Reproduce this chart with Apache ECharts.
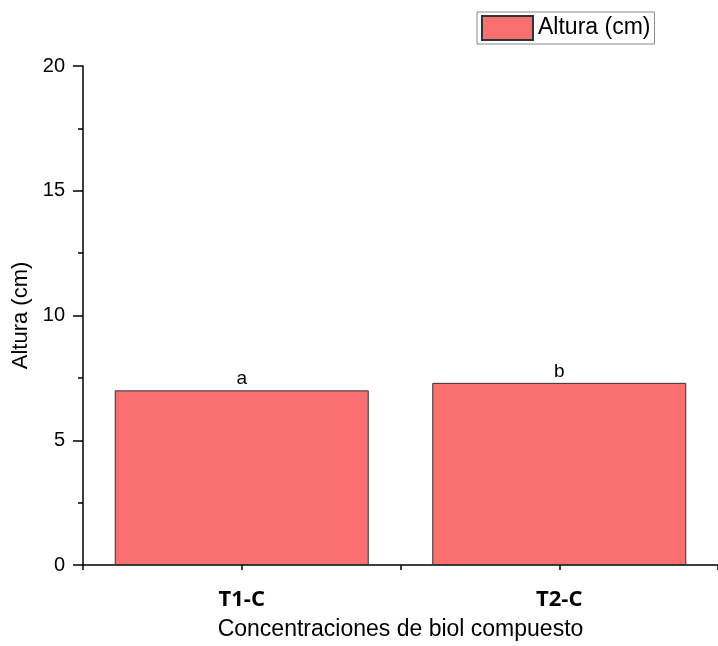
<!DOCTYPE html>
<html><head><meta charset="utf-8">
<script src="https://cdn.jsdelivr.net/npm/echarts@6/dist/echarts.min.js"></script>
<style>html,body{margin:0;padding:0;background:#fff;overflow:hidden}#c{width:718px;height:646px}</style>
</head><body><div id="c"></div>
<script>
const categories = ['T1-C', 'T2-C'];
const alturaValues = [7.0, 7.3];
const barLetters = ['a', 'b'];
const yTicks = { min: 0, max: 20, interval: 5 };

const chart = echarts.init(document.getElementById('c'), null, { renderer: 'canvas', width: 718, height: 646 });
const axisLine = { show: true, lineStyle: { color: '#000', width: 1.5 } };
chart.setOption({
  animation: false,
  backgroundColor: '#fff',
  grid: { left: 83, top: 66, bottom: 75, right: -7, containLabel: false },
  legend: {
    data: ['Altura (cm)'],
    left: 477, top: 12,
    padding: [3, 4, 3, 4],
    itemWidth: 51, itemHeight: 24, itemGap: 6,
    borderColor: '#888', borderWidth: 1,
    icon: 'rect',
    textStyle: { fontFamily: 'Liberation Sans', fontSize: 23, color: '#000' }
  },
  xAxis: [{
    type: 'category', data: categories,
    name: 'Concentraciones de biol compuesto', nameLocation: 'middle', nameGap: 53,
    nameTextStyle: { fontFamily: 'Liberation Sans', fontSize: 23, color: '#000' },
    axisLine: axisLine,
    axisTick: { show: true, alignWithLabel: true, length: 5, lineStyle: { color: '#000', width: 1.5 } },
    axisLabel: { fontFamily: 'Open Sans', fontWeight: 'bold', fontSize: 22, color: '#000', margin: 24 }
  }, {
    type: 'category', data: categories, position: 'bottom',
    axisLine: { show: false },
    axisTick: { show: true, length: 5, lineStyle: { color: '#000', width: 1.5 } },
    axisLabel: { show: false }
  }],
  yAxis: {
    type: 'value', min: yTicks.min, max: yTicks.max, interval: yTicks.interval,
    name: 'Altura (cm)', nameLocation: 'middle', nameGap: 45,
    nameTextStyle: { fontFamily: 'Liberation Sans', fontSize: 22, color: '#000' },
    axisLine: axisLine,
    axisTick: { show: true, length: 10, lineStyle: { color: '#000', width: 1.5 } },
    minorTick: { show: true, splitNumber: 2, length: 5, lineStyle: { color: '#000', width: 1.5 } },
    splitLine: { show: false },
    axisLabel: { fontFamily: 'Liberation Sans', fontSize: 20, color: '#000', margin: 18 }
  },
  series: [{
    name: 'Altura (cm)', type: 'bar', xAxisIndex: 0,
    data: alturaValues,
    barCategoryGap: '20%',
    itemStyle: { color: '#FA7070', borderColor: '#333', borderWidth: 1 },
    label: {
      show: true, position: 'top', distance: 2,
      formatter: p => barLetters[p.dataIndex],
      fontFamily: 'Liberation Sans', fontSize: 19, color: '#000'
    }
  }]
});
</script></body></html>
